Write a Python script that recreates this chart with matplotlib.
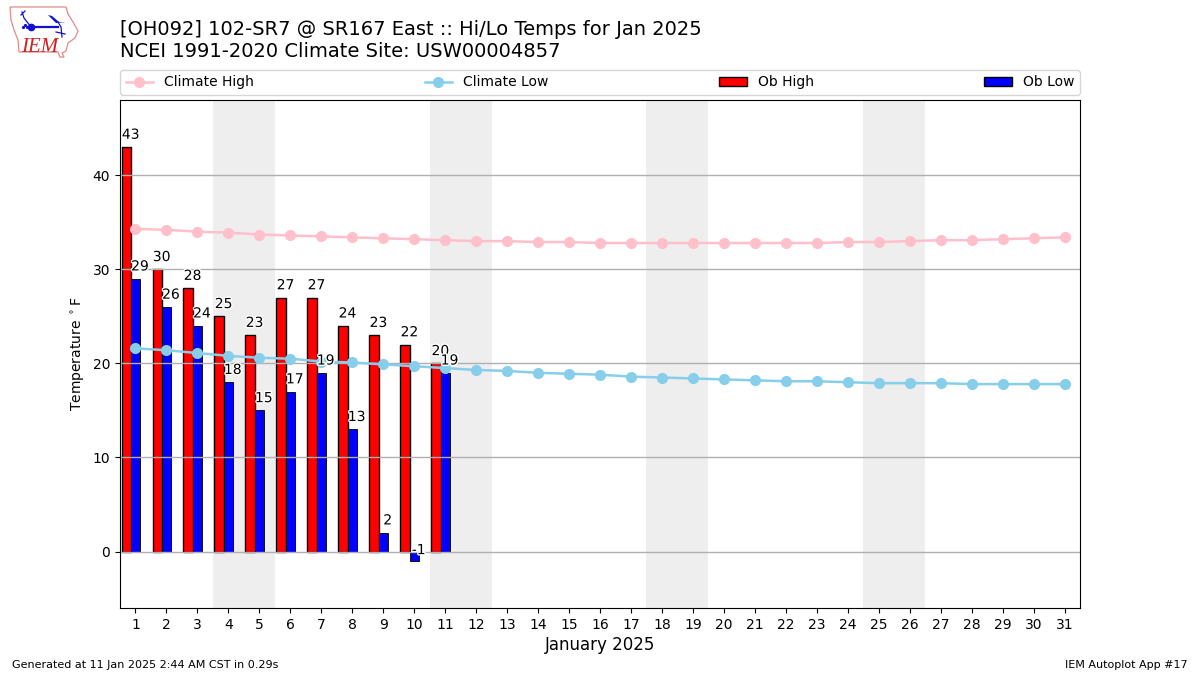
import matplotlib
matplotlib.use("Agg")
import matplotlib.pyplot as plt
import matplotlib.patheffects as pe
from matplotlib.lines import Line2D
from matplotlib.patches import Polygon

days = list(range(1, 32))
climate_high = [34.3, 34.2, 34.0, 33.9, 33.7, 33.6, 33.5, 33.4, 33.3, 33.2, 33.1, 33.0, 33.0, 32.9, 32.9, 32.8,
                32.8, 32.8, 32.8, 32.8, 32.8, 32.8, 32.8, 32.9, 32.9, 33.0, 33.1, 33.1, 33.2, 33.3, 33.4]
climate_low = [21.6, 21.4, 21.1, 20.8, 20.6, 20.5, 20.2, 20.1, 19.9, 19.7, 19.5, 19.3, 19.2, 19.0, 18.9, 18.8,
               18.6, 18.5, 18.4, 18.3, 18.2, 18.1, 18.1, 18.0, 17.9, 17.9, 17.9, 17.8, 17.8, 17.8, 17.8]
ob_days = list(range(1, 12))
ob_high = [43, 30, 28, 25, 23, 27, 27, 24, 23, 22, 20]
ob_low = [29, 26, 24, 18, 15, 17, 19, 13, 2, -1, 19]
weekend_starts = [4, 11, 18, 25]
title_lines = ["[OH092] 102-SR7 @ SR167 East :: Hi/Lo Temps for Jan 2025",
               "NCEI 1991-2020 Climate Site: USW00004857"]

fig = plt.figure(figsize=(12, 6.75), dpi=100)
ax = fig.add_axes([120 / 1200, 1 - 608 / 675, 960 / 1200, 508 / 675])

for s in weekend_starts:
    ax.axvspan(s - 0.5, s + 1.5, color="#EEEEEE", lw=0, zorder=0)

bw = 0.3
ax.bar([d - bw for d in ob_days], ob_high, width=bw, color="red", edgecolor="black", lw=1, zorder=1)
ax.bar(ob_days, ob_low, width=bw, color="blue", edgecolor="black", lw=0.6, zorder=1)

ax.set_axisbelow(False)
ax.grid(axis="y", color="#B0B0B0", lw=1)
ax.xaxis.set_zorder(2)
ax.yaxis.set_zorder(2)

ax.plot(days, climate_high, color="pink", marker="o", ms=7, lw=1.8, zorder=3)
ax.plot(days, climate_low, color="skyblue", marker="o", ms=7, lw=1.8, zorder=3)

white = [pe.withStroke(linewidth=2, foreground="white")]
for d, h, l in zip(ob_days, ob_high, ob_low):
    ax.annotate(str(h), (d, h), xytext=(-3.5, 3.8), textcoords="offset points", ha="center", va="bottom",
                fontsize=10, path_effects=white, zorder=4)
    ax.annotate(str(l), (d, max(l, 0)), xytext=(3.2, 3.8 if l >= 0 else -4), textcoords="offset points",
                ha="center", va="bottom", fontsize=10, path_effects=white, zorder=4)

ax.set_xlim(0.5, 31.5)
ax.set_ylim(-6, 48)
ax.set_xticks(days)
ax.set_yticks([0, 10, 20, 30, 40])
ax.tick_params(labelsize=10)
ax.set_xlabel("January 2025", fontsize=12, labelpad=3)
ax.set_ylabel(r"Temperature $^\circ$F", fontsize=10)

handles = [
    Line2D([], [], color="pink", marker="o", ms=7, lw=1.8),
    Line2D([], [], color="skyblue", marker="o", ms=7, lw=1.8),
    plt.Rectangle((0, 0), 1, 1, fc="red", ec="black", lw=1),
    plt.Rectangle((0, 0), 1, 1, fc="blue", ec="black", lw=1),
]
fig.legend(handles, ["Climate High", "Climate Low", "Ob High", "Ob Low"], ncol=4, mode="expand",
           loc="lower left", bbox_to_anchor=(120 / 1200, 1 - 95 / 675, 960 / 1200, 27 / 675),
           borderaxespad=0, fontsize=10)

fig.text(120 / 1200, 1 - 35 / 675, title_lines[0], fontsize=14, ha="left", va="baseline")
fig.text(120 / 1200, 1 - 57 / 675, title_lines[1], fontsize=14, ha="left", va="baseline")
fig.text(12 / 1200, 1 - 670 / 675, "Generated at 11 Jan 2025 2:44 AM CST in 0.29s", fontsize=8, ha="left", va="bottom")
fig.text(1188 / 1200, 1 - 670 / 675, "IEM Autoplot App #17", fontsize=8, ha="right", va="bottom")

# IEM logo (pixel-space overlay)
logo = fig.add_axes([0, 0, 1, 1], facecolor="none")
logo.set_xlim(0, 1200)
logo.set_ylim(675, 0)
logo.axis("off")
logo.add_patch(Polygon([(10, 7), (66, 7), (68, 14), (73, 22), (78, 31), (75, 38), (68, 43), (66, 51), (62, 53),
                        (64, 57), (60, 57), (58, 52), (19, 52), (18, 40), (14, 30), (11, 20)],
                       closed=True, fill=False, ec="#E28A8A", lw=0.9))
logo.plot([31, 58], [27, 27], color="#1010D0", lw=1.6)
logo.plot([31, 24, 22], [27, 18, 12], color="#1010D0", lw=0.9)
logo.plot([21, 25], [15, 11], color="#1010D0", lw=0.9)
logo.plot([31], [27], marker="o", ms=4.5, color="#1010D0")
logo.add_patch(Polygon([(48, 15), (52, 16), (59, 22), (66, 22), (56, 23)], closed=True, fc="#1010D0", ec="none"))
logo.plot([58, 61, 62], [22, 27, 37], color="#1010D0", lw=0.9)
logo.plot([56, 65], [32, 34], color="#1010D0", lw=0.9)
logo.plot([23, 25, 27], [27, 25, 27], ls="none", marker="o", ms=1.3, color="#1010D0")
logo.text(21, 52, "IEM", color="#D02020", fontsize=15, family="Liberation Serif", style="italic", va="baseline")

fig.savefig("out.png", dpi=100)
